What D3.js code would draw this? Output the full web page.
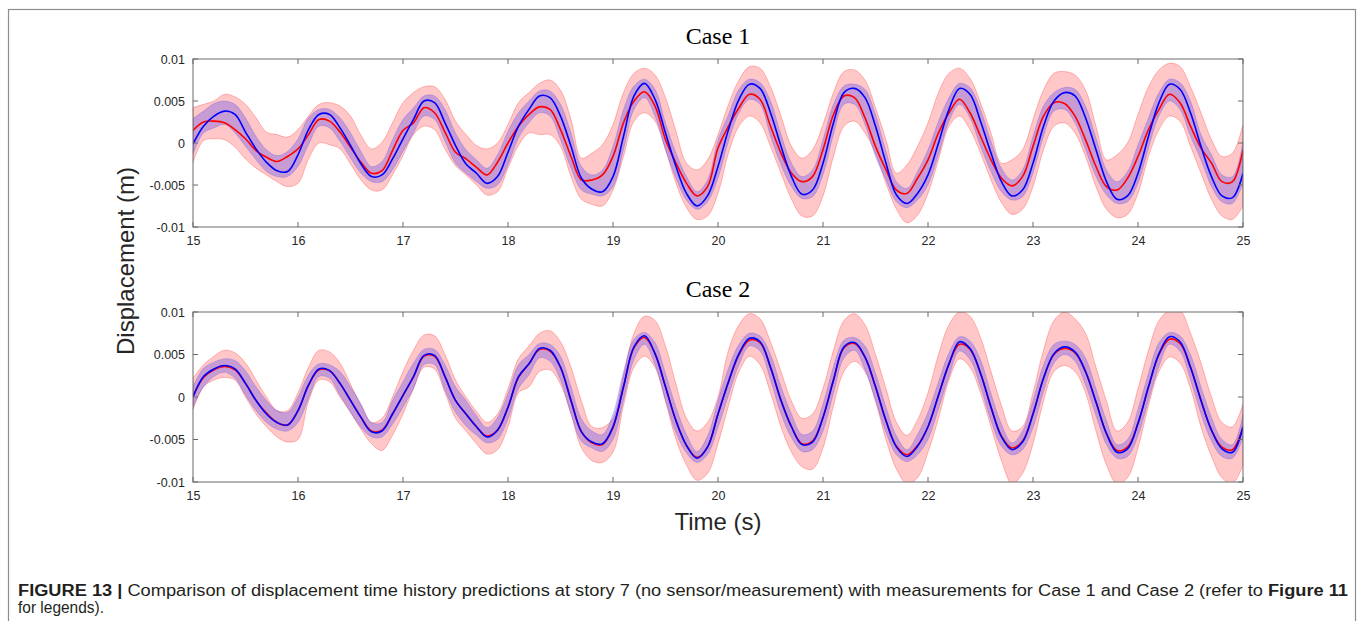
<!DOCTYPE html>
<html>
<head>
<meta charset="utf-8">
<script src="https://cdn.jsdelivr.net/npm/d3@7"></script>
<style>
  html, body { margin: 0; padding: 0; background: #fff; }
  svg { display: block; }
</style>
</head>
<body>
<svg id="fig" width="1357" height="621"></svg>
<script>
// Sampling instants (s)
const time = [15.0,15.1,15.2,15.3,15.4,15.5,15.6,15.7,15.8,15.9,
  16.0,16.1,16.2,16.3,16.4,16.5,16.6,16.7,16.8,16.9,
  17.0,17.1,17.2,17.3,17.4,17.5,17.6,17.7,17.8,17.9,
  18.0,18.1,18.2,18.3,18.4,18.5,18.6,18.7,18.8,18.9,
  19.0,19.1,19.2,19.3,19.4,19.5,19.6,19.7,19.8,19.9,
  20.0,20.1,20.2,20.3,20.4,20.5,20.6,20.7,20.8,20.9,
  21.0,21.1,21.2,21.3,21.4,21.5,21.6,21.7,21.8,21.9,
  22.0,22.1,22.2,22.3,22.4,22.5,22.6,22.7,22.8,22.9,
  23.0,23.1,23.2,23.3,23.4,23.5,23.6,23.7,23.8,23.9,
  24.0,24.1,24.2,24.3,24.4,24.5,24.6,24.7,24.8,24.9,
  25.0];

// ---- Case 1 (m) ----
const case1Measured = [0.0015,0.0025,0.0026,0.0024,0.0016,0.0005,-0.0009,-0.0017,-0.0022,-0.0016,
  -0.0007,0.0010,0.0028,0.0026,0.0013,-0.0005,-0.0023,-0.0036,-0.0033,-0.0009,
  0.0015,0.0024,0.0042,0.0036,0.0013,-0.0011,-0.0019,-0.0029,-0.0038,-0.0023,
  0.0000,0.0020,0.0034,0.0043,0.0040,0.0016,-0.0016,-0.0044,-0.0044,-0.0038,
  -0.0016,0.0024,0.0050,0.0061,0.0044,0.0004,-0.0024,-0.0048,-0.0063,-0.0052,
  -0.0006,0.0020,0.0042,0.0058,0.0052,0.0020,-0.0012,-0.0036,-0.0046,-0.0040,
  -0.0008,0.0034,0.0056,0.0054,0.0030,-0.0004,-0.0032,-0.0056,-0.0060,-0.0042,
  -0.0020,0.0012,0.0036,0.0052,0.0036,0.0008,-0.0020,-0.0042,-0.0051,-0.0040,
  -0.0004,0.0032,0.0048,0.0047,0.0032,0.0004,-0.0028,-0.0052,-0.0056,-0.0042,
  -0.0016,0.0016,0.0040,0.0058,0.0048,0.0020,-0.0006,-0.0024,-0.0046,-0.0046,
  -0.0008];
const case1Predicted = [-0.0001,0.0020,0.0032,0.0038,0.0034,0.0013,-0.0007,-0.0023,-0.0033,-0.0034,
  -0.0014,0.0016,0.0034,0.0034,0.0018,-0.0003,-0.0025,-0.0040,-0.0038,-0.0019,
  0.0005,0.0028,0.0050,0.0048,0.0024,-0.0003,-0.0025,-0.0036,-0.0048,-0.0040,
  -0.0011,0.0020,0.0040,0.0056,0.0054,0.0032,-0.0004,-0.0042,-0.0055,-0.0058,
  -0.0040,0.0008,0.0056,0.0071,0.0052,0.0012,-0.0028,-0.0060,-0.0075,-0.0063,
  -0.0028,0.0016,0.0052,0.0070,0.0065,0.0036,-0.0004,-0.0040,-0.0061,-0.0056,
  -0.0024,0.0024,0.0060,0.0065,0.0054,0.0020,-0.0024,-0.0062,-0.0072,-0.0060,
  -0.0038,0.0000,0.0040,0.0065,0.0058,0.0026,-0.0012,-0.0046,-0.0063,-0.0056,
  -0.0024,0.0020,0.0050,0.0060,0.0056,0.0030,-0.0008,-0.0046,-0.0067,-0.0063,
  -0.0036,0.0008,0.0048,0.0070,0.0064,0.0036,-0.0004,-0.0040,-0.0063,-0.0065,
  -0.0036];
const case1WideUpper = [0.0042,0.0046,0.0050,0.0058,0.0055,0.0046,0.0030,0.0013,0.0010,0.0007,
  0.0016,0.0032,0.0046,0.0048,0.0044,0.0032,0.0009,-0.0007,0.0001,0.0024,
  0.0048,0.0060,0.0067,0.0067,0.0052,0.0026,0.0010,-0.0003,-0.0007,0.0000,
  0.0022,0.0048,0.0060,0.0071,0.0075,0.0063,0.0028,-0.0018,-0.0012,-0.0002,
  0.0022,0.0060,0.0083,0.0089,0.0081,0.0054,0.0014,-0.0024,-0.0032,-0.0020,
  0.0010,0.0046,0.0075,0.0091,0.0089,0.0067,0.0032,-0.0004,-0.0018,-0.0008,
  0.0022,0.0060,0.0085,0.0087,0.0075,0.0042,0.0004,-0.0036,-0.0026,-0.0004,
  0.0024,0.0060,0.0083,0.0089,0.0077,0.0048,0.0012,-0.0024,-0.0020,-0.0008,
  0.0028,0.0063,0.0083,0.0085,0.0081,0.0063,0.0020,-0.0020,-0.0014,0.0000,
  0.0034,0.0067,0.0087,0.0095,0.0091,0.0067,0.0036,0.0004,-0.0016,-0.0012,
  0.0022];
const case1WideLower = [-0.0023,0.0003,0.0005,0.0004,-0.0005,-0.0019,-0.0030,-0.0038,-0.0046,-0.0052,
  -0.0048,-0.0019,0.0000,-0.0002,-0.0007,-0.0025,-0.0044,-0.0056,-0.0056,-0.0038,
  -0.0015,0.0010,0.0020,0.0016,-0.0007,-0.0027,-0.0038,-0.0050,-0.0062,-0.0058,
  -0.0030,-0.0003,0.0012,0.0010,0.0010,-0.0004,-0.0040,-0.0067,-0.0073,-0.0075,
  -0.0056,-0.0016,0.0026,0.0036,0.0026,-0.0008,-0.0048,-0.0077,-0.0091,-0.0087,
  -0.0060,-0.0012,0.0020,0.0032,0.0024,-0.0004,-0.0036,-0.0067,-0.0087,-0.0087,
  -0.0063,-0.0016,0.0020,0.0026,0.0012,-0.0012,-0.0048,-0.0079,-0.0095,-0.0086,
  -0.0060,-0.0020,0.0020,0.0032,0.0016,-0.0012,-0.0044,-0.0071,-0.0085,-0.0079,
  -0.0052,-0.0008,0.0020,0.0024,0.0012,-0.0016,-0.0052,-0.0079,-0.0089,-0.0085,
  -0.0060,-0.0016,0.0016,0.0032,0.0026,-0.0004,-0.0036,-0.0067,-0.0087,-0.0091,
  -0.0075];
const case1NarrowUpper = [0.0029,0.0038,0.0047,0.0050,0.0046,0.0030,0.0008,-0.0008,-0.0015,-0.0010,
  0.0005,0.0030,0.0040,0.0040,0.0030,0.0012,-0.0010,-0.0028,-0.0022,0.0004,
  0.0028,0.0042,0.0056,0.0056,0.0040,0.0012,-0.0008,-0.0020,-0.0030,-0.0014,
  0.0014,0.0036,0.0050,0.0062,0.0062,0.0046,0.0012,-0.0028,-0.0038,-0.0032,
  -0.0004,0.0040,0.0068,0.0076,0.0064,0.0024,-0.0012,-0.0040,-0.0058,-0.0044,
  0.0004,0.0034,0.0064,0.0076,0.0072,0.0050,0.0010,-0.0024,-0.0040,-0.0032,
  0.0004,0.0046,0.0068,0.0070,0.0064,0.0034,-0.0010,-0.0046,-0.0054,-0.0034,
  -0.0008,0.0026,0.0054,0.0071,0.0066,0.0040,0.0002,-0.0030,-0.0044,-0.0032,
  0.0008,0.0044,0.0060,0.0066,0.0064,0.0044,0.0006,-0.0032,-0.0046,-0.0034,
  -0.0002,0.0030,0.0060,0.0076,0.0072,0.0050,0.0010,-0.0014,-0.0038,-0.0040,
  0.0002];
const case1NarrowLower = [-0.0013,0.0012,0.0018,0.0022,0.0012,-0.0004,-0.0020,-0.0034,-0.0040,-0.0040,
  -0.0028,-0.0002,0.0020,0.0018,0.0002,-0.0018,-0.0036,-0.0046,-0.0046,-0.0032,
  -0.0010,0.0012,0.0032,0.0028,0.0002,-0.0024,-0.0036,-0.0046,-0.0054,-0.0050,
  -0.0026,0.0006,0.0024,0.0036,0.0032,0.0004,-0.0030,-0.0056,-0.0061,-0.0063,
  -0.0052,-0.0008,0.0040,0.0054,0.0032,-0.0008,-0.0042,-0.0068,-0.0079,-0.0070,
  -0.0042,0.0002,0.0036,0.0052,0.0046,0.0008,-0.0026,-0.0052,-0.0066,-0.0064,
  -0.0038,0.0010,0.0046,0.0046,0.0022,-0.0016,-0.0044,-0.0070,-0.0077,-0.0068,
  -0.0050,-0.0014,0.0026,0.0046,0.0030,-0.0004,-0.0034,-0.0058,-0.0068,-0.0064,
  -0.0036,0.0008,0.0038,0.0040,0.0024,-0.0008,-0.0040,-0.0062,-0.0072,-0.0070,
  -0.0048,-0.0006,0.0032,0.0050,0.0040,0.0008,-0.0020,-0.0052,-0.0070,-0.0072,
  -0.0048];

// ---- Case 2 (m) ----
const case2Measured = [0.0001,0.0023,0.0032,0.0036,0.0032,0.0016,-0.0004,-0.0019,-0.0030,-0.0033,
  -0.0016,0.0014,0.0032,0.0031,0.0016,-0.0004,-0.0024,-0.0040,-0.0039,-0.0020,
  0.0002,0.0024,0.0048,0.0048,0.0024,-0.0004,-0.0020,-0.0035,-0.0046,-0.0039,
  -0.0012,0.0023,0.0039,0.0056,0.0054,0.0035,-0.0004,-0.0041,-0.0054,-0.0056,
  -0.0036,0.0012,0.0058,0.0070,0.0051,0.0012,-0.0028,-0.0057,-0.0071,-0.0059,
  -0.0020,0.0018,0.0050,0.0067,0.0064,0.0035,-0.0004,-0.0035,-0.0055,-0.0052,
  -0.0024,0.0020,0.0058,0.0063,0.0047,0.0012,-0.0028,-0.0058,-0.0068,-0.0057,
  -0.0035,0.0002,0.0039,0.0062,0.0056,0.0028,-0.0012,-0.0046,-0.0060,-0.0052,
  -0.0020,0.0022,0.0050,0.0057,0.0052,0.0030,-0.0006,-0.0043,-0.0063,-0.0059,
  -0.0031,0.0012,0.0050,0.0068,0.0063,0.0035,-0.0004,-0.0039,-0.0059,-0.0062,
  -0.0035];
const case2Predicted = [0.0000,0.0024,0.0033,0.0037,0.0033,0.0016,-0.0004,-0.0020,-0.0030,-0.0033,
  -0.0016,0.0014,0.0033,0.0031,0.0016,-0.0004,-0.0024,-0.0041,-0.0040,-0.0020,
  0.0002,0.0024,0.0049,0.0049,0.0024,-0.0004,-0.0020,-0.0035,-0.0047,-0.0039,
  -0.0012,0.0024,0.0039,0.0057,0.0055,0.0035,-0.0004,-0.0041,-0.0053,-0.0055,
  -0.0035,0.0012,0.0059,0.0072,0.0051,0.0012,-0.0028,-0.0057,-0.0072,-0.0059,
  -0.0020,0.0018,0.0051,0.0069,0.0065,0.0035,-0.0004,-0.0035,-0.0056,-0.0053,
  -0.0024,0.0020,0.0059,0.0064,0.0047,0.0012,-0.0028,-0.0059,-0.0070,-0.0058,
  -0.0035,0.0002,0.0039,0.0065,0.0057,0.0028,-0.0012,-0.0047,-0.0062,-0.0053,
  -0.0020,0.0022,0.0051,0.0059,0.0053,0.0030,-0.0006,-0.0043,-0.0065,-0.0061,
  -0.0031,0.0012,0.0051,0.0071,0.0065,0.0035,-0.0004,-0.0039,-0.0061,-0.0065,
  -0.0035];
const case2WideUpper = [0.0022,0.0038,0.0048,0.0055,0.0052,0.0040,0.0020,0.0000,-0.0016,-0.0016,
  0.0005,0.0035,0.0055,0.0053,0.0040,0.0015,-0.0010,-0.0030,-0.0025,0.0000,
  0.0030,0.0055,0.0073,0.0072,0.0050,0.0020,0.0000,-0.0017,-0.0030,-0.0020,
  0.0010,0.0045,0.0060,0.0075,0.0078,0.0065,0.0035,-0.0005,-0.0035,-0.0036,
  -0.0025,0.0025,0.0075,0.0095,0.0090,0.0060,0.0015,-0.0025,-0.0040,-0.0030,
  0.0000,0.0055,0.0085,0.0098,0.0092,0.0065,0.0030,-0.0005,-0.0025,-0.0020,
  0.0010,0.0055,0.0090,0.0098,0.0085,0.0050,0.0010,-0.0030,-0.0045,-0.0027,
  0.0005,0.0050,0.0085,0.0100,0.0095,0.0070,0.0030,-0.0010,-0.0040,-0.0035,
  0.0005,0.0055,0.0090,0.0100,0.0092,0.0075,0.0035,-0.0005,-0.0040,-0.0030,
  0.0010,0.0055,0.0090,0.0102,0.0102,0.0075,0.0040,0.0000,-0.0030,-0.0035,
  -0.0008];
const case2WideLower = [-0.0015,0.0012,0.0020,0.0023,0.0020,0.0000,-0.0020,-0.0035,-0.0047,-0.0053,
  -0.0050,-0.0005,0.0020,0.0018,0.0000,-0.0018,-0.0038,-0.0055,-0.0063,-0.0045,
  -0.0020,0.0010,0.0035,0.0033,0.0005,-0.0025,-0.0040,-0.0055,-0.0067,-0.0062,
  -0.0035,0.0005,0.0012,0.0030,0.0032,0.0015,-0.0020,-0.0060,-0.0075,-0.0077,
  -0.0065,-0.0010,0.0035,0.0048,0.0035,-0.0005,-0.0050,-0.0080,-0.0098,-0.0090,
  -0.0055,-0.0010,0.0030,0.0048,0.0038,0.0005,-0.0035,-0.0065,-0.0082,-0.0085,
  -0.0060,-0.0010,0.0030,0.0042,0.0030,-0.0005,-0.0050,-0.0085,-0.0102,-0.0095,
  -0.0065,-0.0025,0.0020,0.0045,0.0035,0.0005,-0.0035,-0.0075,-0.0102,-0.0090,
  -0.0055,-0.0005,0.0030,0.0037,0.0030,0.0005,-0.0040,-0.0080,-0.0102,-0.0095,
  -0.0060,-0.0010,0.0030,0.0047,0.0040,0.0010,-0.0035,-0.0070,-0.0095,-0.0102,
  -0.0080];
const case2NarrowUpper = [0.0012,0.0034,0.0041,0.0045,0.0043,0.0031,0.0012,-0.0004,-0.0016,-0.0018,
  0.0000,0.0026,0.0039,0.0038,0.0030,0.0012,-0.0008,-0.0030,-0.0030,-0.0004,
  0.0018,0.0040,0.0056,0.0056,0.0038,0.0012,-0.0004,-0.0022,-0.0036,-0.0024,
  0.0004,0.0038,0.0050,0.0063,0.0062,0.0048,0.0012,-0.0026,-0.0040,-0.0044,
  -0.0020,0.0030,0.0068,0.0076,0.0064,0.0028,-0.0012,-0.0044,-0.0064,-0.0046,
  -0.0004,0.0034,0.0062,0.0075,0.0072,0.0050,0.0012,-0.0020,-0.0044,-0.0040,
  -0.0008,0.0036,0.0067,0.0070,0.0060,0.0028,-0.0012,-0.0046,-0.0062,-0.0044,
  -0.0018,0.0018,0.0052,0.0071,0.0066,0.0044,0.0004,-0.0032,-0.0054,-0.0040,
  -0.0004,0.0038,0.0062,0.0066,0.0062,0.0046,0.0010,-0.0028,-0.0056,-0.0050,
  -0.0014,0.0028,0.0064,0.0076,0.0072,0.0050,0.0012,-0.0024,-0.0050,-0.0056,
  -0.0020];
const case2NarrowLower = [-0.0012,0.0012,0.0024,0.0029,0.0022,0.0002,-0.0016,-0.0030,-0.0038,-0.0040,
  -0.0030,-0.0002,0.0024,0.0022,0.0002,-0.0018,-0.0036,-0.0047,-0.0047,-0.0032,
  -0.0012,0.0010,0.0038,0.0038,0.0008,-0.0018,-0.0034,-0.0045,-0.0054,-0.0050,
  -0.0026,0.0010,0.0026,0.0046,0.0042,0.0020,-0.0020,-0.0052,-0.0060,-0.0064,
  -0.0050,-0.0004,0.0044,0.0062,0.0038,-0.0004,-0.0042,-0.0066,-0.0077,-0.0068,
  -0.0036,0.0002,0.0038,0.0060,0.0054,0.0020,-0.0020,-0.0048,-0.0064,-0.0062,
  -0.0040,0.0004,0.0046,0.0055,0.0032,-0.0004,-0.0042,-0.0068,-0.0076,-0.0068,
  -0.0050,-0.0014,0.0024,0.0054,0.0044,0.0012,-0.0028,-0.0058,-0.0068,-0.0062,
  -0.0036,0.0006,0.0040,0.0050,0.0042,0.0014,-0.0022,-0.0056,-0.0072,-0.0070,
  -0.0046,-0.0004,0.0036,0.0062,0.0054,0.0020,-0.0020,-0.0052,-0.0070,-0.0072,
  -0.0048];

// Axis ticks
const xTicks = [15,16,17,18,19,20,21,22,23,24,25];
const yTicks = [-0.01,-0.005,0,0.005,0.01];
const yTickLabels = ["-0.01","-0.005","0","0.005","0.01"];

const panels = [
  { title: "Case 1", top: 59, bottom: 227, titleY: 44,
    measured: case1Measured, predicted: case1Predicted,
    wideUpper: case1WideUpper, wideLower: case1WideLower,
    narrowUpper: case1NarrowUpper, narrowLower: case1NarrowLower },
  { title: "Case 2", top: 312, bottom: 482, titleY: 297,
    measured: case2Measured, predicted: case2Predicted,
    wideUpper: case2WideUpper, wideLower: case2WideLower,
    narrowUpper: case2NarrowUpper, narrowLower: case2NarrowLower }
];

const svg = d3.select("#fig");
const left = 193, right = 1243;
const axisColor = "#262626";
const boxColor = "#6a6a6a";
const sans = "'Liberation Sans', Arial, Helvetica, sans-serif";

// outer figure frame
svg.append("rect")
  .attr("x", 8.5).attr("y", 9.5)
  .attr("width", 1347).attr("height", 640)
  .attr("fill", "none").attr("stroke", "#8c8c8c").attr("stroke-width", 1.2);

const x = d3.scaleLinear().domain([15, 25]).range([left, right]);

panels.forEach((p, k) => {
  const y = d3.scaleLinear().domain([-0.01, 0.01]).range([p.bottom, p.top]);
  const g = svg.append("g");

  const clipId = "clip" + k;
  svg.append("clipPath").attr("id", clipId)
    .append("rect").attr("x", left).attr("y", p.top)
    .attr("width", right - left).attr("height", p.bottom - p.top);

  const plot = g.append("g").attr("clip-path", `url(#${clipId})`);
  const idx = d3.range(time.length);

  const band = (hi, lo) => d3.area()
    .x(i => x(time[i])).y0(i => y(lo[i])).y1(i => y(hi[i]))
    .curve(d3.curveCatmullRom.alpha(0.5));
  const line = (v) => d3.line()
    .x(i => x(time[i])).y(i => y(v[i]))
    .curve(d3.curveCatmullRom.alpha(0.5));

  plot.append("path").attr("d", band(p.wideUpper, p.wideLower)(idx))
    .attr("fill", "#ff0000").attr("fill-opacity", 0.22)
    .attr("stroke", "#ff0000").attr("stroke-opacity", 0.25).attr("stroke-width", 1);
  plot.append("path").attr("d", band(p.narrowUpper, p.narrowLower)(idx))
    .attr("fill", "#0000ff").attr("fill-opacity", 0.22)
    .attr("stroke", "#0000ff").attr("stroke-opacity", 0.15).attr("stroke-width", 1);
  plot.append("path").attr("d", line(p.measured)(idx))
    .attr("fill", "none").attr("stroke", "#ff0000").attr("stroke-width", 1.6);
  plot.append("path").attr("d", line(p.predicted)(idx))
    .attr("fill", "none").attr("stroke", "#0000ff").attr("stroke-width", 1.6);

  // axes box with inward ticks on all four sides
  const axB = d3.axisBottom(x).tickValues(xTicks).tickSize(0).tickPadding(9).tickFormat(d3.format("d"));
  const axL = d3.axisLeft(y).tickValues(yTicks).tickSize(0).tickPadding(8)
    .tickFormat((d, i) => yTickLabels[i]);

  const gb = g.append("g").attr("transform", `translate(0,${p.bottom})`).call(axB);
  const gl = g.append("g").attr("transform", `translate(${left},0)`).call(axL);
  [gb, gl].forEach(a => {
    a.select(".domain").remove();
    a.selectAll("text").attr("font-family", sans).attr("font-size", 12.5).attr("fill", axisColor);
  });

  const tickLen = 5;
  const tk = g.append("g").attr("stroke", boxColor).attr("stroke-width", 1);
  xTicks.forEach(t => {
    tk.append("line").attr("x1", x(t)).attr("x2", x(t)).attr("y1", p.bottom).attr("y2", p.bottom - tickLen);
    tk.append("line").attr("x1", x(t)).attr("x2", x(t)).attr("y1", p.top).attr("y2", p.top + tickLen);
  });
  yTicks.forEach(v => {
    tk.append("line").attr("x1", left).attr("x2", left + tickLen).attr("y1", y(v)).attr("y2", y(v));
    tk.append("line").attr("x1", right).attr("x2", right - tickLen).attr("y1", y(v)).attr("y2", y(v));
  });
  g.append("rect").attr("x", left).attr("y", p.top)
    .attr("width", right - left).attr("height", p.bottom - p.top)
    .attr("fill", "none").attr("stroke", boxColor).attr("stroke-width", 1);

  g.append("text").attr("x", (left + right) / 2).attr("y", p.titleY)
    .attr("text-anchor", "middle")
    .attr("font-family", "'Liberation Serif', 'Times New Roman', serif")
    .attr("font-size", 24).attr("fill", "#000").text(p.title);
});

// shared axis labels
svg.append("text")
  .attr("transform", "translate(134,261) rotate(-90)")
  .attr("text-anchor", "middle").attr("font-family", sans)
  .attr("font-size", 24).attr("fill", axisColor).text("Displacement (m)");
svg.append("text")
  .attr("x", 718).attr("y", 530).attr("text-anchor", "middle")
  .attr("font-family", sans).attr("font-size", 24).attr("fill", axisColor).text("Time (s)");

// caption
const cap = svg.append("g").attr("font-family", sans).attr("font-size", 16).attr("fill", "#231f20");
const l1 = cap.append("text").attr("x", 18).attr("y", 596)
  .attr("textLength", 1330).attr("lengthAdjust", "spacingAndGlyphs");
l1.append("tspan").attr("font-weight", "bold").text("FIGURE 13 | ");
l1.append("tspan").text("Comparison of displacement time history predictions at story 7 (no sensor/measurement) with measurements for Case 1 and Case 2 (refer to ");
l1.append("tspan").attr("font-weight", "bold").text("Figure 11");
cap.append("text").attr("x", 18).attr("y", 613)
  .attr("textLength", 86).attr("lengthAdjust", "spacingAndGlyphs")
  .text("for legends).");
</script>
</body>
</html>
